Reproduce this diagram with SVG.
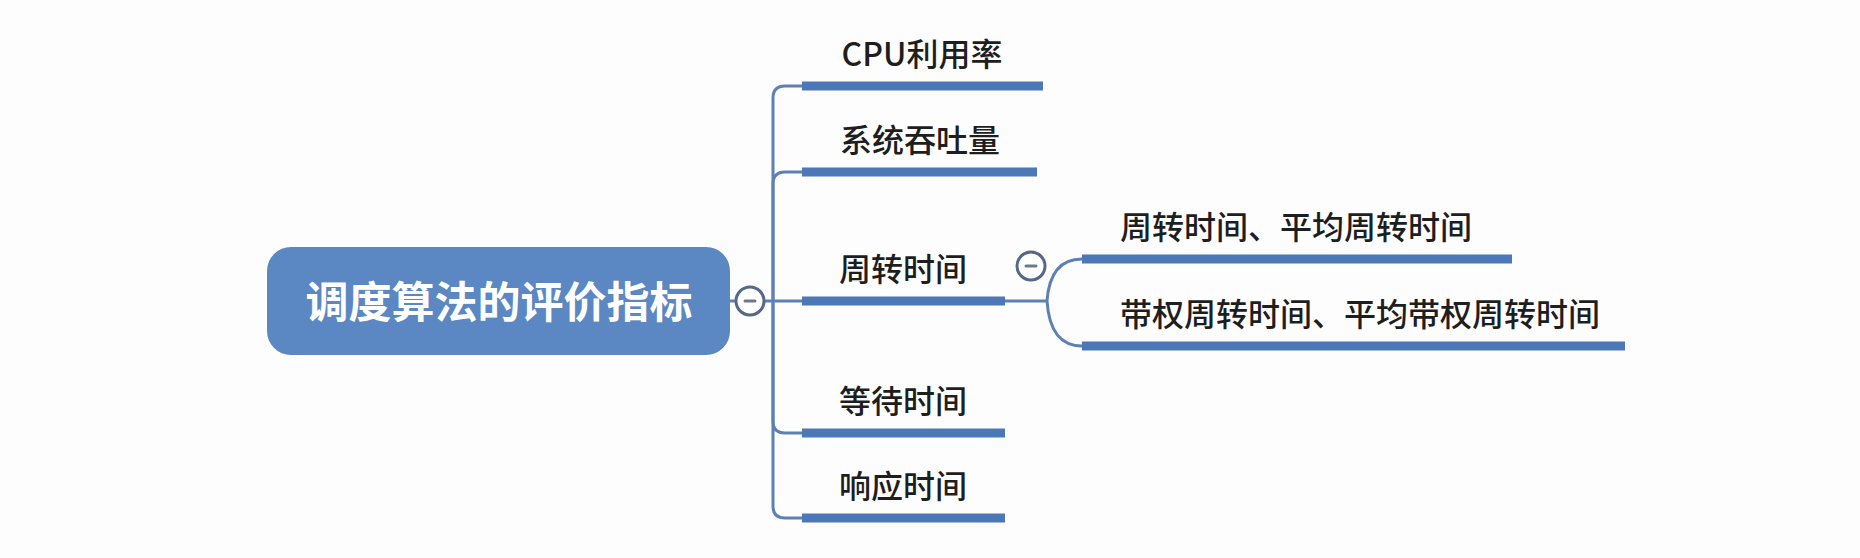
<svg xmlns="http://www.w3.org/2000/svg" width="1860" height="558" viewBox="0 0 1860 558">
  <style>
    .lbl { font-family: "Noto Sans CJK SC", "Liberation Sans", sans-serif; font-size: 32px; font-weight: 500; fill: #1e1e1e; text-anchor: middle; }
    .root-txt { font-family: "Noto Sans CJK SC", "Liberation Sans", sans-serif; font-size: 43px; font-weight: bold; fill: #ffffff; text-anchor: middle; }
    .bar { stroke: #4c78b8; stroke-width: 9; stroke-linecap: butt; fill: none; }
    .conn { stroke: #5f80b4; stroke-width: 3; fill: none; }
    .toggle { fill: #ffffff; stroke: #56678a; stroke-width: 3; }
    .minus { stroke: #6c7890; stroke-width: 3; stroke-linecap: round; }
  </style>
  <rect width="1860" height="558" fill="#fdfdfd"/>

  <g id="connectors">
    <!-- root to trunk -->
    <path class="conn" d="M730,301 H802"/>
    <!-- branches up -->
    <path class="conn" d="M773,301 V98 Q773,86 785,86 H802"/>
    <path class="conn" d="M773,301 V184 Q773,172 785,172 H802"/>
    <!-- branches down -->
    <path class="conn" d="M773,301 V421 Q773,433 785,433 H802"/>
    <path class="conn" d="M773,301 V506 Q773,518 785,518 H802"/>
    <!-- sub branches -->
    <path class="conn" d="M1005,301 H1047"/>
    <path class="conn" d="M1047,301 Q1050,259 1082,259"/>
    <path class="conn" d="M1047,301 Q1050,346 1082,346"/>
  </g>

  <g id="root">
    <rect x="267" y="247" width="463" height="108" rx="24" ry="24" fill="#5b87c2"/>
    <text class="root-txt" x="499" y="318">调度算法的评价指标</text>
  </g>
  <g id="root-toggle">
    <circle class="toggle" cx="750" cy="301" r="14"/>
    <line class="minus" x1="745" y1="301" x2="755" y2="301"/>
  </g>

  <g id="cpu">
    <line class="bar" x1="802" y1="86" x2="1043" y2="86"/>
    <text class="lbl" x="922" y="66">CPU利用率</text>
  </g>
  <g id="throughput">
    <line class="bar" x1="802" y1="172" x2="1037" y2="172"/>
    <text class="lbl" x="920" y="152">系统吞吐量</text>
  </g>
  <g id="turnaround">
    <line class="bar" x1="802" y1="301" x2="1005" y2="301"/>
    <text class="lbl" x="903" y="281">周转时间</text>
  </g>
  <g id="turnaround-toggle">
    <circle class="toggle" cx="1031" cy="266" r="14"/>
    <line class="minus" x1="1026" y1="266" x2="1036" y2="266"/>
  </g>
  <g id="avg-turnaround">
    <line class="bar" x1="1082" y1="259" x2="1512" y2="259"/>
    <text class="lbl" x="1296" y="239">周转时间、平均周转时间</text>
  </g>
  <g id="weighted-turnaround">
    <line class="bar" x1="1082" y1="346" x2="1625" y2="346"/>
    <text class="lbl" x="1360" y="326">带权周转时间、平均带权周转时间</text>
  </g>
  <g id="waiting">
    <line class="bar" x1="802" y1="433" x2="1005" y2="433"/>
    <text class="lbl" x="903" y="413">等待时间</text>
  </g>
  <g id="response">
    <line class="bar" x1="802" y1="518" x2="1005" y2="518"/>
    <text class="lbl" x="903" y="498">响应时间</text>
  </g>
</svg>
